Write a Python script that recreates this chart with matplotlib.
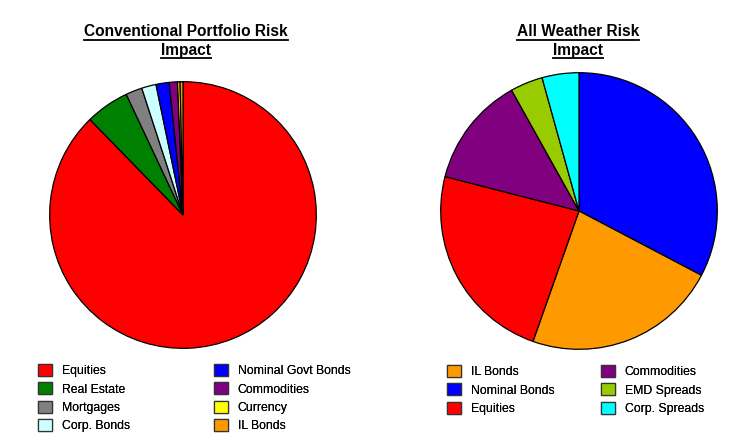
import matplotlib
matplotlib.use("Agg")
import matplotlib.pyplot as plt
from matplotlib.patches import Patch

plt.rcParams['font.family'] = ['Liberation Sans', 'DejaVu Sans']

# Conventional portfolio risk shares (%), clockwise from 12 o'clock
conv_labels = ['Equities', 'Real Estate', 'Mortgages', 'Corp. Bonds',
               'Nominal Govt Bonds', 'Commodities', 'Currency', 'IL Bonds']
conv_values = [87.7, 5.3, 2.0, 1.75, 1.6, 1.0, 0.3, 0.35]
conv_colors = ['#FF0000', '#008000', '#808080', '#CCFFFF',
               '#0000FF', '#800080', '#FFFF00', '#FF9900']

# All Weather risk shares (%), clockwise from 12 o'clock
aw_labels = ['Nominal Bonds', 'IL Bonds', 'Equities', 'Commodities',
             'EMD Spreads', 'Corp. Spreads']
aw_values = [32.7, 22.7, 23.6, 12.9, 3.8, 4.3]
aw_colors = ['#0000FF', '#FF9900', '#FF0000', '#800080', '#99CC00', '#00FFFF']
aw_legend_order = ['IL Bonds', 'Nominal Bonds', 'Equities',
                   'Commodities', 'EMD Spreads', 'Corp. Spreads']

W, H = 743, 446
fig = plt.figure(figsize=(W / 100, H / 100), dpi=100)


def px_axes(cx, cy, r):
    ax = fig.add_axes([(cx - r) / W, (H - cy - r) / H, 2 * r / W, 2 * r / H])
    return ax


ax1 = px_axes(183, 215, 134)
ax1.pie(conv_values, colors=conv_colors, startangle=90, counterclock=False,
        wedgeprops=dict(edgecolor='black', linewidth=0.9))
ax1.set_xlim(-1.005, 1.005)
ax1.set_ylim(-1.005, 1.005)
ax1.set_aspect('equal')

ax2 = px_axes(579, 211, 139)
ax2.pie(aw_values, colors=aw_colors, startangle=90, counterclock=False,
        wedgeprops=dict(edgecolor='black', linewidth=0.9))
ax2.set_xlim(-1.005, 1.005)
ax2.set_ylim(-1.005, 1.005)
ax2.set_aspect('equal')

# titles, bold and underlined
titles = [(186, ['Conventional Portfolio Risk', 'Impact']),
          (578, ['All Weather Risk', 'Impact'])]
fig.canvas.draw()
renderer = fig.canvas.get_renderer()
for x, lines in titles:
    for i, line in enumerate(lines):
        y = 32 + i * 18
        t = fig.text(x / W, 1 - y / H, line, ha='center', va='center',
                     fontsize=11.2, fontweight='bold')
        bb = t.get_window_extent(renderer=renderer)
        uy = bb.y0 - 0.5
        fig.add_artist(plt.Line2D([bb.x0 / W, bb.x1 / W], [uy / H, uy / H],
                                  color='black', linewidth=1.3))


def column_legend(labels, colors, x, y):
    handles = [Patch(facecolor=c, edgecolor='#333333', linewidth=0.9) for c in colors]
    leg = fig.legend(handles, labels, loc='upper left',
                     bbox_to_anchor=(x / W, 1 - y / H), frameon=False,
                     fontsize=8.8, handlelength=1.15, handleheight=1.15,
                     handletextpad=0.8, labelspacing=0.42,
                     borderpad=0, borderaxespad=0)
    fig.add_artist(leg)


cmap = dict(zip(conv_labels, conv_colors))
column_legend(conv_labels[:4], [cmap[l] for l in conv_labels[:4]], 38, 364)
column_legend(conv_labels[4:], [cmap[l] for l in conv_labels[4:]], 214, 364)

amap = dict(zip(aw_labels, aw_colors))
column_legend(aw_legend_order[:3], [amap[l] for l in aw_legend_order[:3]], 447, 365)
column_legend(aw_legend_order[3:], [amap[l] for l in aw_legend_order[3:]], 601, 365)

fig.savefig('out.png', dpi=100)
